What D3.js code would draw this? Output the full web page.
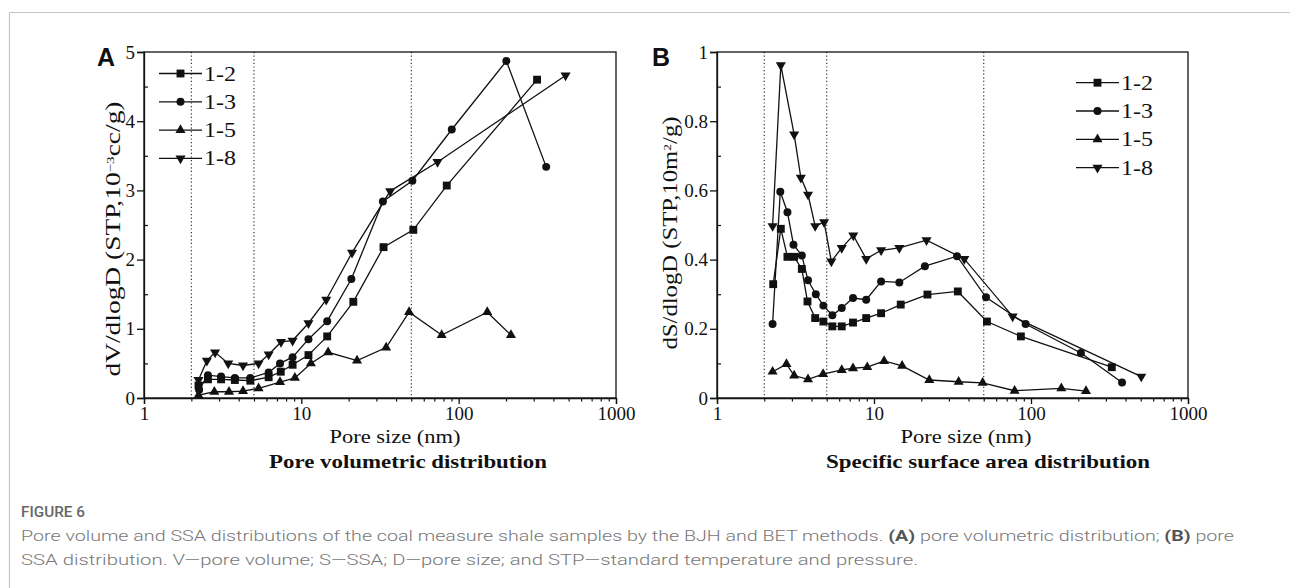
<!DOCTYPE html>
<html>
<head>
<meta charset="utf-8">
<script src="https://cdn.jsdelivr.net/npm/d3@7"></script>
<style>
  html, body { margin: 0; padding: 0; background: #fff; }
  svg { display: block; }
</style>
</head>
<body>
<svg id="chart" width="1290" height="588"></svg>
<script>
// ---------------- DATA ----------------
const seriesNames = ["1-2", "1-3", "1-5", "1-8"];
const xTickValues = [1, 10, 100, 1000];
const boundaryLines = [2, 5, 50];

// Panel A: pore volumetric distribution (dV/dlogD, 10^-3 cc/g)
const a12_x = [2.22, 2.55, 3.09, 3.78, 4.74, 6.2, 7.4, 8.8, 11.1, 14.6, 21.4, 33.3, 51.5, 84, 315];
const a12_y = [0.18, 0.27, 0.27, 0.26, 0.25, 0.30, 0.38, 0.48, 0.62, 0.89, 1.39, 2.18, 2.43, 3.07, 4.60];
const a13_x = [2.24, 2.55, 3.09, 3.78, 4.74, 6.2, 7.32, 8.8, 11.1, 14.6, 20.8, 33.0, 50.8, 90.4, 201, 360];
const a13_y = [0.12, 0.33, 0.31, 0.29, 0.29, 0.37, 0.50, 0.59, 0.85, 1.11, 1.72, 2.84, 3.14, 3.88, 4.87, 3.34];
const a15_x = [2.22, 2.80, 3.47, 4.26, 5.35, 7.32, 9.1, 11.5, 14.8, 22.6, 34.6, 48.4, 78, 152, 215];
const a15_y = [0.04, 0.09, 0.09, 0.10, 0.14, 0.23, 0.29, 0.50, 0.66, 0.54, 0.73, 1.24, 0.91, 1.24, 0.91];
const a18_x = [2.22, 2.51, 2.83, 3.43, 4.26, 5.35, 6.2, 7.43, 8.8, 11.1, 14.4, 21.0, 36.7, 73.4, 478];
const a18_y = [0.26, 0.54, 0.66, 0.50, 0.47, 0.50, 0.63, 0.81, 0.83, 1.08, 1.42, 2.10, 2.99, 3.41, 4.66];
const aYTicks = [0, 1, 2, 3, 4, 5];

// Panel B: specific surface area distribution (dS/dlogD, 10 m^2/g)
const b12_x = [2.28, 2.55, 2.81, 3.10, 3.47, 3.77, 4.22, 4.76, 5.43, 6.23, 7.35, 8.92, 11.1, 14.8, 21.9, 34.2, 52.4, 86.2, 327];
const b12_y = [0.329, 0.489, 0.408, 0.408, 0.373, 0.279, 0.231, 0.221, 0.207, 0.207, 0.218, 0.231, 0.245, 0.270, 0.299, 0.308, 0.221, 0.178, 0.089];
const b13_x = [2.26, 2.53, 2.81, 3.07, 3.47, 3.80, 4.26, 4.76, 5.43, 6.23, 7.35, 8.92, 11.1, 14.5, 21.1, 33.8, 51.7, 92.4, 208, 380];
const b13_y = [0.214, 0.596, 0.537, 0.443, 0.412, 0.340, 0.300, 0.267, 0.239, 0.260, 0.289, 0.284, 0.337, 0.334, 0.381, 0.410, 0.291, 0.214, 0.130, 0.045];
const b15_x = [2.26, 2.77, 3.10, 3.80, 4.74, 6.23, 7.35, 9.06, 11.6, 15.1, 22.5, 34.6, 49.2, 78.6, 156, 224];
const b15_y = [0.076, 0.098, 0.065, 0.054, 0.069, 0.081, 0.086, 0.089, 0.107, 0.093, 0.052, 0.047, 0.044, 0.021, 0.028, 0.020];
const b18_x = [2.26, 2.55, 3.10, 3.42, 3.80, 4.22, 4.81, 5.35, 6.23, 7.38, 8.92, 11.1, 14.5, 21.6, 37.6, 76.4, 504];
const b18_y = [0.497, 0.962, 0.762, 0.637, 0.588, 0.497, 0.508, 0.395, 0.434, 0.470, 0.402, 0.427, 0.434, 0.456, 0.402, 0.236, 0.062];
const bYTicks = [0, 0.2, 0.4, 0.6, 0.8, 1];

// ---------------- DRAW ----------------
const svg = d3.select("#chart");
const SERIF = "'Liberation Serif', 'Times New Roman', serif";
const SANS = "'Liberation Sans', Arial, sans-serif";

// frame lines
svg.append("line").attr("x1", 9.5).attr("x2", 1290).attr("y1", 12.5).attr("y2", 12.5)
  .attr("stroke", "#c4c4c4").attr("stroke-width", 1.2);
svg.append("line").attr("x1", 9.5).attr("x2", 9.5).attr("y1", 12.5).attr("y2", 588)
  .attr("stroke", "#c4c4c4").attr("stroke-width", 1.2);

const symbolFor = [
  { type: d3.symbolSquare, size: 62, rot: 0 },
  { type: d3.symbolCircle, size: 50, rot: 0 },
  { type: d3.symbolTriangle, size: 44, rot: 0 },
  { type: d3.symbolTriangle, size: 44, rot: 180 }
];

function drawPanel(cfg) {
  const g = svg.append("g");
  const x = d3.scaleLog().domain([1, 1000]).range([cfg.left, cfg.right]);
  const y = d3.scaleLinear().domain([0, cfg.yMax]).range([cfg.bottom, cfg.top]);

  // dotted boundaries
  g.selectAll(".bound").data(boundaryLines).enter().append("line")
    .attr("x1", d => x(d)).attr("x2", d => x(d))
    .attr("y1", cfg.top).attr("y2", cfg.bottom)
    .attr("stroke", "#222").attr("stroke-width", 1.1).attr("stroke-dasharray", "1.2,2.4");

  // box
  g.append("rect").attr("x", cfg.left).attr("y", cfg.top)
    .attr("width", cfg.right - cfg.left).attr("height", cfg.bottom - cfg.top)
    .attr("fill", "none").attr("stroke", "#111").attr("stroke-width", 1.3);

  // x axis
  const minorX = [];
  for (let dec = 1; dec < 1000; dec *= 10) for (let k = 2; k <= 9; k++) minorX.push(dec * k);
  const xAxis = d3.axisBottom(x).tickValues(xTickValues).tickFormat(d3.format("d")).tickSize(6).tickPadding(3);
  const xa = g.append("g").attr("transform", `translate(0,${cfg.bottom})`).call(xAxis);
  xa.select(".domain").attr("stroke", "#111").attr("stroke-width", 1.3);
  xa.selectAll(".tick line").attr("stroke", "#111").attr("stroke-width", 1.3);
  xa.selectAll(".tick text").attr("font-family", SERIF).attr("font-size", 19).attr("fill", "#111");
  const xm = g.append("g").attr("transform", `translate(0,${cfg.bottom})`)
    .call(d3.axisBottom(x).tickValues(minorX).tickFormat("").tickSize(3.5));
  xm.select(".domain").remove();
  xm.selectAll(".tick line").attr("stroke", "#111").attr("stroke-width", 1.2);

  // y axis
  const yAxis = d3.axisLeft(y).tickValues(cfg.yTicks).tickFormat(cfg.yFmt).tickSize(7).tickPadding(2);
  const ya = g.append("g").attr("transform", `translate(${cfg.left},0)`).call(yAxis);
  ya.select(".domain").attr("stroke", "#111").attr("stroke-width", 1.3);
  ya.selectAll(".tick line").attr("stroke", "#111").attr("stroke-width", 1.3);
  ya.selectAll(".tick text").attr("font-family", SERIF).attr("font-size", 19).attr("fill", "#111");
  const minorY = d3.range(0, cfg.yTicks.length - 1).map(i => (cfg.yTicks[i] + cfg.yTicks[i + 1]) / 2);
  const ym = g.append("g").attr("transform", `translate(${cfg.left},0)`)
    .call(d3.axisRight(y).tickValues(minorY).tickFormat("").tickSize(4));
  ym.select(".domain").remove();
  ym.selectAll(".tick line").attr("stroke", "#111").attr("stroke-width", 1.2);

  // series
  const line = d3.line().x(d => x(d[0])).y(d => y(d[1]));
  cfg.series.forEach((s, i) => {
    const pts = s.xs.map((v, j) => [v, s.ys[j]]);
    g.append("path").datum(pts).attr("d", line)
      .attr("fill", "none").attr("stroke", "#111").attr("stroke-width", 1.3);
    const sym = symbolFor[i];
    g.selectAll(".m" + i).data(pts).enter().append("path")
      .attr("d", d3.symbol().type(sym.type).size(sym.size))
      .attr("transform", d => `translate(${x(d[0])},${y(d[1])}) rotate(${sym.rot})`)
      .attr("fill", "#111");
  });

  // legend
  seriesNames.forEach((name, i) => {
    const ly = cfg.legY + i * cfg.legDy;
    g.append("line").attr("x1", cfg.legX).attr("x2", cfg.legX + 43)
      .attr("y1", ly).attr("y2", ly).attr("stroke", "#111").attr("stroke-width", 1.3);
    const sym = symbolFor[i];
    g.append("path").attr("d", d3.symbol().type(sym.type).size(sym.size))
      .attr("transform", `translate(${cfg.legX + 21.5},${ly}) rotate(${sym.rot})`).attr("fill", "#111");
    g.append("text").attr("x", cfg.legX + 45).attr("y", ly + 7)
      .attr("font-family", SERIF).attr("font-size", 21).attr("fill", "#111")
      .attr("textLength", 32).attr("lengthAdjust", "spacingAndGlyphs").text(name);
  });

  // panel letter
  g.append("text").attr("x", cfg.letterX).attr("y", 66).attr("font-family", SANS)
    .attr("font-weight", "bold").attr("font-size", 25).attr("fill", "#111").text(cfg.letter);

  // y label
  const yl = g.append("text")
    .attr("transform", `translate(${cfg.yLabX},${cfg.yLabCY}) rotate(-90)`)
    .attr("text-anchor", "middle").attr("font-family", SERIF).attr("font-size", 20).attr("fill", "#111")
    .attr("textLength", cfg.yLabLen).attr("lengthAdjust", "spacingAndGlyphs");
  cfg.yLabParts.forEach(p => {
    const t = yl.append("tspan").text(p.t);
    if (p.sup) t.attr("font-size", 11).attr("baseline-shift", "super");
  });

  // x label
  g.append("text").attr("x", cfg.xLabCX).attr("y", 443).attr("text-anchor", "middle")
    .attr("font-family", SERIF).attr("font-size", 19).attr("fill", "#111")
    .attr("textLength", 131).attr("lengthAdjust", "spacingAndGlyphs").text("Pore size (nm)");

  // panel title
  g.append("text").attr("x", cfg.titleCX).attr("y", 468).attr("text-anchor", "middle")
    .attr("font-family", SERIF).attr("font-weight", "bold").attr("font-size", 19).attr("fill", "#111")
    .attr("textLength", cfg.titleLen).attr("lengthAdjust", "spacingAndGlyphs").text(cfg.title);
}

drawPanel({
  left: 144, right: 616, top: 52, bottom: 398, yMax: 5, yTicks: aYTicks, yFmt: d3.format("d"),
  series: [{ xs: a12_x, ys: a12_y }, { xs: a13_x, ys: a13_y }, { xs: a15_x, ys: a15_y }, { xs: a18_x, ys: a18_y }],
  legX: 159, legY: 73.5, legDy: 28.3,
  letter: "A", letterX: 97,
  yLabX: 120, yLabCY: 239, yLabLen: 275,
  yLabParts: [{ t: "dV/dlogD (STP,10" }, { t: "−3", sup: true }, { t: "cc/g)" }],
  xLabCX: 395, titleCX: 408, titleLen: 278, title: "Pore volumetric distribution"
});

drawPanel({
  left: 717, right: 1188, top: 52, bottom: 398, yMax: 1, yTicks: bYTicks, yFmt: d => d === 0 || d === 1 ? d3.format("d")(d) : d3.format(".1f")(d),
  series: [{ xs: b12_x, ys: b12_y }, { xs: b13_x, ys: b13_y }, { xs: b15_x, ys: b15_y }, { xs: b18_x, ys: b18_y }],
  legX: 1076, legY: 82.7, legDy: 28.3,
  letter: "B", letterX: 652,
  yLabX: 677, yLabCY: 233, yLabLen: 233,
  yLabParts: [{ t: "dS/dlogD (STP,10m" }, { t: "2", sup: true }, { t: "/g)" }],
  xLabCX: 966, titleCX: 988, titleLen: 324, title: "Specific surface area distribution"
});

// caption
const CAP = "'Roboto', 'Open Sans', sans-serif";
svg.append("text").attr("x", 21).attr("y", 517).attr("font-family", CAP).attr("font-weight", 500)
  .attr("font-size", 15).attr("fill", "#666").attr("textLength", 64).attr("lengthAdjust", "spacingAndGlyphs")
  .text("FIGURE 6");
const cap1 = svg.append("text").attr("x", 21).attr("y", 541).attr("font-family", CAP).attr("font-weight", 300)
  .attr("font-size", 15).attr("fill", "#777").attr("textLength", 1213).attr("lengthAdjust", "spacingAndGlyphs");
cap1.append("tspan").text("Pore volume and SSA distributions of the coal measure shale samples by the BJH and BET methods. ");
cap1.append("tspan").attr("font-weight", 700).attr("fill", "#555").text("(A)");
cap1.append("tspan").text(" pore volumetric distribution; ");
cap1.append("tspan").attr("font-weight", 700).attr("fill", "#555").text("(B)");
cap1.append("tspan").text(" pore");
svg.append("text").attr("x", 21).attr("y", 565).attr("font-family", CAP).attr("font-weight", 300)
  .attr("font-size", 15).attr("fill", "#777").attr("textLength", 897).attr("lengthAdjust", "spacingAndGlyphs")
  .text("SSA distribution. V—pore volume; S—SSA; D—pore size; and STP—standard temperature and pressure.");
</script>
</body>
</html>
